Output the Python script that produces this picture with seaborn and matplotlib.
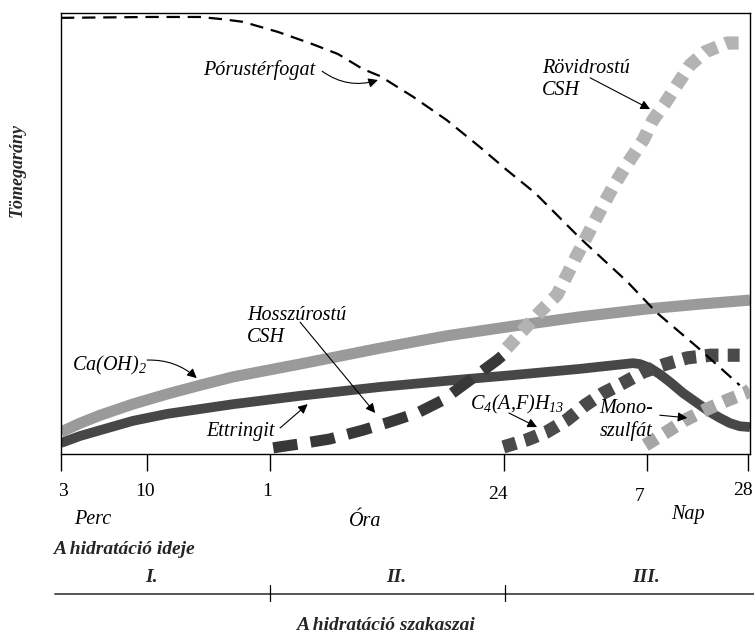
import numpy as np
import pandas as pd
import matplotlib
matplotlib.use('Agg')
import matplotlib.pyplot as plt
import matplotlib.transforms as mtransforms
import seaborn as sns
from matplotlib.lines import Line2D

# time axis is a stretched scale (3 perc ... 28 nap), mapped onto 0..100
tick_pos = [0, 12.5, 30.3, 64.3, 85.0, 99.7]
tick_labels = ['3', '10', '1', '24', '7', '28']
# small shifts of the tick labels (px right, px down), as in the scanned original
tick_shift = [(2, 0), (-2, 0), (-3, 0), (-6, 3), (-7, 5), (-5, -1)]

# relative mass (tomegarany), 0..100
pore_x = [0, 12.9, 20.2, 23.4, 26.4, 31.5, 36.4, 40.2, 43.8, 46.3, 51.1, 56.0, 60.8, 64.7, 68.8, 75.3,
          82.1, 86.5, 92.3, 98.5]
pore_y = [98.9, 99.1, 99.1, 98.6, 98.0, 95.7, 93.0, 90.7, 87.3, 85.7, 81.0, 75.7, 69.6, 64.4, 59.2, 49.0,
          39.2, 32.0, 24.3, 15.6]

caoh_x = [0, 2.8, 5.7, 10.4, 15.4, 20.2, 25.0, 34.7, 46.3, 56.0, 65.6, 75.3, 85.1, 92.8, 100]
caoh_y = [5.0, 7.0, 8.8, 11.3, 13.6, 15.6, 17.5, 20.4, 24.0, 26.8, 29.0, 31.1, 32.9, 34.0, 34.9]

ettr_x = [0, 2.8, 5.7, 10.4, 15.4, 20.2, 25.0, 34.7, 46.3, 56.0, 65.6, 75.3, 83.0, 84.0, 85.5, 86.9,
          88.4, 90.3, 92.3, 94.2, 95.6, 97.1, 98.5, 100]
ettr_y = [2.5, 4.1, 5.4, 7.5, 9.1, 10.2, 11.3, 13.2, 15.2, 16.6, 17.9, 19.3, 20.6, 20.4, 19.5, 18.1,
          16.3, 13.8, 11.6, 9.5, 8.2, 7.0, 6.3, 6.1]

long_csh_x = [30.8, 34.7, 39.0, 43.8, 47.8, 51.7, 55.4, 59.4, 63.3, 65.2]
long_csh_y = [1.4, 2.3, 3.4, 5.4, 7.3, 9.3, 12.2, 16.8, 21.3, 23.8]

short_csh_x = [64.7, 67.1, 69.5, 72.0, 74.6, 76.8, 78.7, 80.1, 81.9, 84.5, 85.9, 87.7, 89.4, 91.3, 93.5, 96.7, 99.6]
short_csh_y = [24.0, 28.1, 32.2, 36.1, 44.2, 50.8, 56.5, 60.5, 65.1, 71.2, 75.7, 79.6, 83.7, 88.2, 91.2, 93.2, 93.2]

c4afh_x = [64.2, 67.6, 70.5, 73.4, 76.1, 78.7, 81.6, 84.5, 87.4, 90.9, 94.2, 98.5]
c4afh_y = [1.6, 3.2, 5.0, 7.7, 11.1, 13.8, 16.1, 18.6, 20.2, 21.8, 22.4, 22.4]

mono_x = [84.8, 87.7, 90.6, 93.5, 96.7, 99.3, 100]
mono_y = [2.0, 4.8, 7.7, 10.0, 12.2, 13.8, 14.5]

sns.set_style('white')
plt.rcParams['font.family'] = ['Liberation Serif', 'DejaVu Serif']
plt.rcParams['mathtext.fontset'] = 'custom'
plt.rcParams['mathtext.rm'] = 'Liberation Serif'
plt.rcParams['mathtext.it'] = 'Liberation Serif:italic'

fig = plt.figure(figsize=(7.54, 6.34), dpi=100)
ax = fig.add_axes([61 / 754, 1 - 454 / 634, 689 / 754, 441 / 634])

sq = (0, (1, 0.7))
sns.lineplot(x=caoh_x, y=caoh_y, ax=ax, color='#9a9a9a', lw=8, solid_capstyle='butt', zorder=2)
sns.lineplot(x=ettr_x, y=ettr_y, ax=ax, color='#474747', lw=7, solid_capstyle='butt',
             solid_joinstyle='round', zorder=2)
sns.lineplot(x=long_csh_x, y=long_csh_y, ax=ax, color='#383838', lw=8, linestyle=(0, (2.2, 1.2)), zorder=3)
sns.lineplot(x=short_csh_x, y=short_csh_y, ax=ax, color='#b3b3b3', lw=9.5, linestyle=sq, zorder=3)
sns.lineplot(x=c4afh_x, y=c4afh_y, ax=ax, color='#4a4a4a', lw=9.5, linestyle=sq, zorder=3)
sns.lineplot(x=mono_x, y=mono_y, ax=ax, color='#a6a6a6', lw=9.5, linestyle=sq, zorder=3)
sns.lineplot(x=pore_x, y=pore_y, ax=ax, color='black', lw=1.6, linestyle=(0, (6, 3.5)), zorder=4)

ax.set_xlim(0, 100)
ax.set_ylim(0, 100)
ax.set_xticks(tick_pos, tick_labels)
ax.set_yticks([])
ax.tick_params(axis='x', bottom=True, direction='out', length=12, width=1, pad=9, labelsize=14,
               colors='black')
for lbl, (dx, dy) in zip(ax.get_xticklabels(), tick_shift):
    lbl.set_transform(lbl.get_transform() + mtransforms.ScaledTranslation(dx / 100, -dy / 100, fig.dpi_scale_trans))
for s in ax.spines.values():
    s.set_visible(True)
    s.set_color('black')
    s.set_linewidth(1)
ax.set_xlabel('')
ax.set_ylabel('')

arrow = dict(arrowstyle='-|>', color='black', lw=0.8, mutation_scale=14, shrinkA=0, shrinkB=0)
lab = dict(fontsize=14.5, style='italic', color='black')

ax.text(28.7, 87.1, 'Pórustérfogat', ha='center', va='center', **lab)
ax.annotate('', xy=(46.0, 84.8), xytext=(37.9, 86.8), arrowprops=dict(arrow, connectionstyle='arc3,rad=0.25'))

ax.text(69.8, 85.0, 'Rövidrostú\nCSH', ha='left', va='center', **lab)
ax.annotate('', xy=(85.5, 78.2), xytext=(76.8, 85.3), arrowprops=arrow)

ax.text(1.6, 20.0, r'Ca(OH)$_{\mathregular{2}}$', ha='left', va='center', **lab)
ax.annotate('', xy=(19.7, 17.2), xytext=(12.5, 21.3), arrowprops=dict(arrow, connectionstyle='arc3,rad=-0.2'))

ax.text(27.0, 29.0, 'Hosszúrostú\nCSH', ha='left', va='center', **lab)
ax.annotate('', xy=(45.6, 9.3), xytext=(34.7, 29.9), arrowprops=arrow)

ax.text(26.1, 5.0, 'Ettringit', ha='center', va='center', **lab)
ax.annotate('', xy=(35.8, 11.3), xytext=(31.8, 5.9), arrowprops=arrow)

ax.text(59.4, 11.3, r'C$_{\mathregular{4}}$(A,F)H$_{\mathregular{13}}$', ha='left', va='center', **lab)
ax.annotate('', xy=(69.1, 6.1), xytext=(65.0, 9.3), arrowprops=arrow)

ax.text(82.1, 7.7, 'Mono-\nszulfát', ha='center', va='center', **lab)
ax.annotate('', xy=(90.9, 8.2), xytext=(86.9, 8.8), arrowprops=arrow)

# figure-level text below the axes
def fx(px):
    return px / 754

def fy(py):
    return 1 - py / 634

fig.text(fx(17), fy(170), 'Tömegarány', rotation=90, ha='center', va='center',
         fontsize=13, style='italic', weight='bold')
fig.text(fx(93), fy(520), 'Perc', ha='center', va='center', **lab)
fig.text(fx(365), fy(521), 'Óra', ha='center', va='center', **lab)
fig.text(fx(688), fy(515), 'Nap', ha='center', va='center', **lab)
fig.text(fx(53), fy(550), 'A hidratáció ideje', ha='left', va='center',
         fontsize=14, style='italic', weight='bold')

fig.add_artist(Line2D([fx(55), fx(754)], [fy(594), fy(594)], color='#555555', lw=1.4))
for px in (270, 505):
    fig.add_artist(Line2D([fx(px), fx(px)], [fy(585), fy(601)], color='black', lw=0.9))
for txt, px in (('I.', 151), ('II.', 396), ('III.', 646)):
    fig.text(fx(px), fy(578), txt, ha='center', va='center', fontsize=14, style='italic', weight='bold')
fig.text(fx(385), fy(625), 'A hidratáció szakaszai', ha='center', va='center',
         fontsize=14, style='italic', weight='bold')

fig.savefig('out.png', dpi=100)
